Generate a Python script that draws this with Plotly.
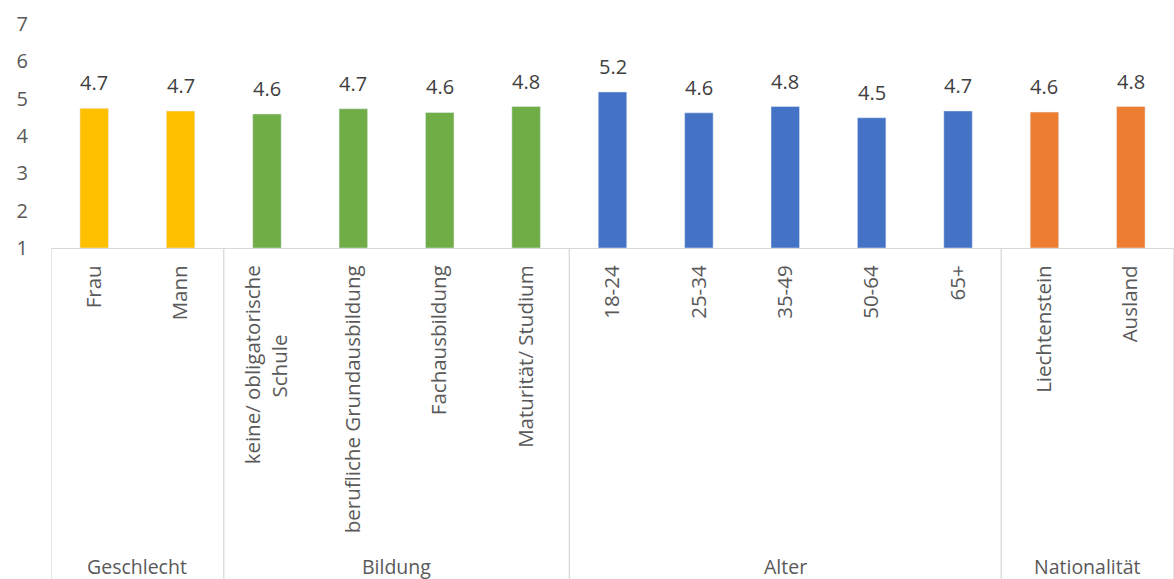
import plotly.graph_objects as go

categories = ["Frau", "Mann", "keine/ obligatorische<br>Schule" + "\u00a0" * 13, "berufliche Grundausbildung",
              "Fachausbildung", "Maturität/ Studium", "18-24", "25-34", "35-49", "50-64", "65+",
              "Liechtenstein", "Ausland"]
values = [4.74, 4.67, 4.59, 4.73, 4.63, 4.79, 5.18, 4.62, 4.79, 4.49, 4.67, 4.64, 4.79]
value_labels = ["4.7", "4.7", "4.6", "4.7", "4.6", "4.8", "5.2", "4.6", "4.8", "4.5", "4.7", "4.6", "4.8"]
groups = ["Geschlecht", "Bildung", "Alter", "Nationalität"]
group_sizes = [2, 4, 5, 2]
group_colors = ["#FFC000", "#70AD47", "#4472C4", "#ED7D31"]

bar_colors = []
for c, n in zip(group_colors, group_sizes):
    bar_colors += [c] * n

FONT = "Open Sans"
TXT = "#595959"
AXIS_MIN = 1

fig = go.Figure()
fig.add_trace(go.Bar(
    x=list(range(len(categories))), y=[v - AXIS_MIN for v in values], base=AXIS_MIN,
    marker_color=bar_colors, width=0.33, hoverinfo="skip", cliponaxis=False,
))

annotations = []
for i, (v, lab) in enumerate(zip(values, value_labels)):
    annotations.append(dict(x=i, y=v, text=lab, showarrow=False, xref="x", yref="y",
                            yanchor="bottom", yshift=10,
                            font=dict(family=FONT, size=20, color="#404040")))

shapes = []
start = 0
edges = [-0.5]
for n in group_sizes:
    start += n
    edges.append(start - 0.5)
for e in edges:
    shapes.append(dict(type="line", xref="x", yref="paper", x0=e, x1=e, y0=0, y1=-1.6,
                       line=dict(color="#D9D9D9", width=1.3)))
start = 0
for g, n in zip(groups, group_sizes):
    mid = start + (n - 1) / 2
    annotations.append(dict(x=mid, y=-1.42, xref="x", yref="paper", text=g, showarrow=False,
                            yanchor="middle", font=dict(family=FONT, size=19.5, color=TXT)))
    start += n

fig.update_layout(
    width=1174, height=579,
    margin=dict(l=51, r=0, t=24, b=331, autoexpand=False),
    paper_bgcolor="white", plot_bgcolor="white",
    showlegend=False,
    annotations=annotations, shapes=shapes,
    font=dict(family=FONT, color=TXT),
)
fig.update_xaxes(
    range=[-0.5, len(categories) - 0.5], automargin=False,
    tickmode="array", tickvals=list(range(len(categories))), ticktext=categories,
    tickangle=-90, tickfont=dict(family=FONT, size=20.5, color=TXT),
    showline=True, linecolor="#D9D9D9", linewidth=1.3, showgrid=False, zeroline=False,
    ticks="", ticklabelstandoff=8,
)
fig.update_yaxes(
    range=[1, 7], tickvals=[1, 2, 3, 4, 5, 6, 7], showgrid=False, zeroline=False, automargin=False,
    showline=False, tickfont=dict(family=FONT, size=20, color=TXT), ticklabelstandoff=22,
)

fig.write_html("out.html", config={"displayModeBar": False},
               post_script="document.body.style.margin='0';document.body.style.overflow='hidden';")
